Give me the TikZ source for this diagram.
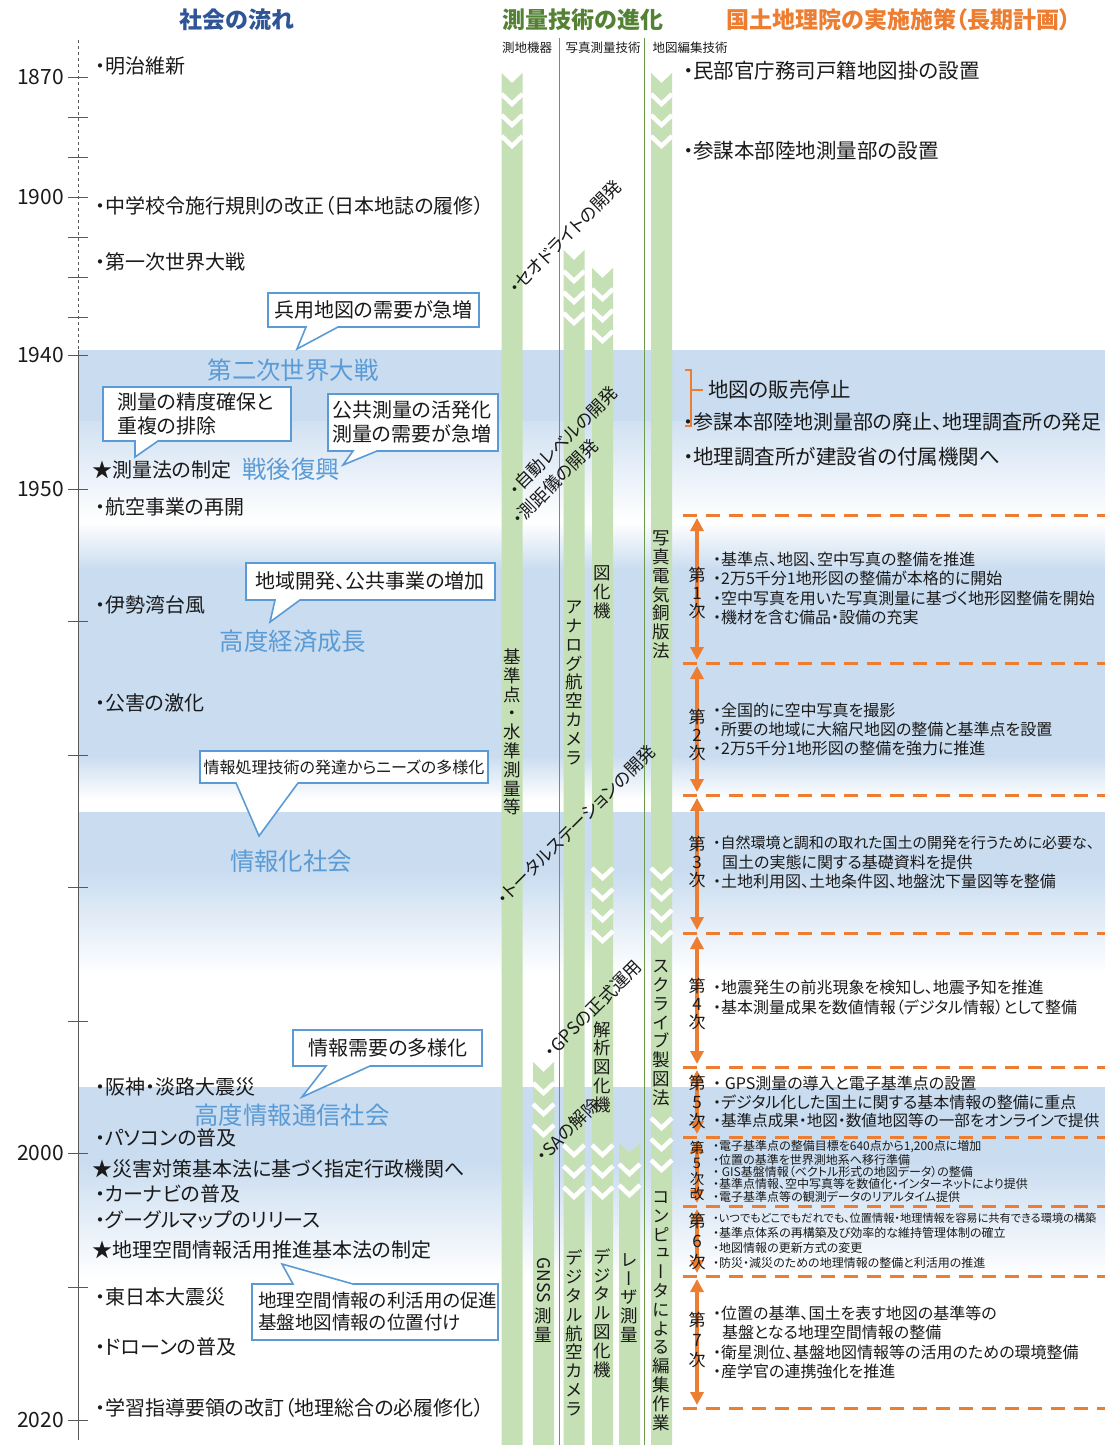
\documentclass[tikz,border=0pt]{standalone}
\usepackage{fontspec}
\setmainfont{Noto Sans CJK JP}[RawFeature=+palt]
\newfontfamily\vfont{Noto Sans CJK JP}[RawFeature=+vert]
\usetikzlibrary{arrows.meta}
\definecolor{txtc}{HTML}{1A1A1A}
\definecolor{headb}{HTML}{2F5597}
\definecolor{headg}{HTML}{548235}
\definecolor{orc}{HTML}{ED7D31}
\definecolor{erac}{HTML}{5B9BD5}
\definecolor{callc}{HTML}{5B9BD5}
\definecolor{bandc}{HTML}{C9DCF0}
\definecolor{barg}{HTML}{C5E0B4}
\definecolor{sepg}{HTML}{6A9A4A}
\newcommand{\gbar}[3]{\fill[barg] (#1-10.5,#2) -- (#1,#2+10) -- (#1+10.5,#2) -- (#1+10.5,#3) -- (#1-10.5,#3) -- cycle;}
\newcommand{\chevs}[2]{\foreach \yy in {#2}{\draw[white, line width=4.5pt] (#1-10.5,\yy) -- (#1,\yy+10) -- (#1+10.5,\yy);}}
\tikzset{
  lefttxt/.style={anchor=west, inner sep=0pt, text=txtc, font=\fontsize{20}{24}\selectfont},
  righttxt/.style={anchor=west, inner sep=0pt, text=txtc, font=\fontsize{20.5}{24}\selectfont},
  eratxt/.style={text=erac, inner sep=0pt, font=\fontsize{24.4}{28}\selectfont},
  yeartxt/.style={anchor=east, inner sep=0pt, font=\fontsize{21}{24}\selectfont, text=txtc},
  calltxt/.style={align=center, inner sep=0pt, text=txtc, font=\fontsize{20}{24.5}\selectfont},
  cbox/.style={draw=callc, line width=1.6pt, fill=white, line join=miter},
  plantxt/.style={anchor=west, inner sep=0pt, text=txtc, font=\fontsize{16}{19}\selectfont},
  plansm/.style={plantxt, font=\fontsize{12}{14}\selectfont},
  planlab/.style={align=center, inner sep=0pt, text=txtc, font=\fontsize{17}{17.8}\selectfont},
  pline/.style={draw=orc, line width=3pt, dash pattern=on 14pt off 9pt},
  parrow/.style={draw=orc, line width=3.5pt, {Triangle[width=13pt,length=13pt]}-{Triangle[width=13pt,length=13pt]}},
  diagtxt/.style={rotate=45, inner sep=0pt, text=txtc, font=\fontsize{17.5}{20}\selectfont},
  vtxt/.style={align=center, inner sep=0pt, text=txtc, font=\vfont\fontsize{17.5}{18.8}\selectfont},
  headtxt/.style={inner sep=0pt, font=\bfseries\fontsize{23}{26}\selectfont},
  subhead/.style={inner sep=0pt, text=txtc, font=\fontsize{12.5}{14}\selectfont},
}
\begin{document}
\begin{tikzpicture}[x=1pt,y=-1pt]
\useasboundingbox (0,0) rectangle (1115,1445);
\fill[white] (0,0) rectangle (1115,1445);

% ---- era bands
\fill[bandc] (78,350) rectangle (1105,421);
\shade[top color=bandc!85, bottom color=white] (78,421) rectangle (1105,522);
\shade[top color=white, bottom color=bandc] (78,522) rectangle (1105,570);
\fill[bandc] (78,570) rectangle (1105,755);
\shade[top color=bandc, bottom color=white] (78,755) rectangle (1105,800);
\fill[bandc] (78,812) rectangle (1105,870);
\shade[top color=bandc, bottom color=white] (78,870) rectangle (1105,975);
\fill[bandc] (78,1087) rectangle (1105,1160);
\shade[top color=bandc, bottom color=white] (78,1160) rectangle (1105,1278);

% ---- headers
\node[headtxt, text=headb] (h1) at (237,20) {社会の流れ};
\node[headtxt, text=headg] (h2) at (583,20) {測量技術の進化};
\node[headtxt, text=orc] (h3) at (899,20) {国土地理院の実施施策（長期計画）};
\node[subhead] (s1) at (527,48) {測地機器};
\node[subhead] (s2) at (603,48) {写真測量技術};
\node[subhead] (s3) at (690,48) {地図編集技術};

% ---- time axis
\draw[gray!70!black, line width=1pt, dash pattern=on 3pt off 3pt] (78,40) -- (78,350);
\draw[gray!70!black, line width=1pt] (78,350) -- (78,1440);
\foreach \yy in {77,117,157,197,237,277,317,355,489,621,755,887,1021,1153,1287,1420}
  {\draw[gray!70!black, line width=1pt] (68,\yy) -- (88,\yy);}
\node[yeartxt] (y1870) at (64,77) {1870};
\node[yeartxt] (y1900) at (64,197) {1900};
\node[yeartxt] (y1940) at (64,355) {1940};
\node[yeartxt] (y1950) at (64,489) {1950};
\node[yeartxt] (y2000) at (64,1153) {2000};
\node[yeartxt] (y2020) at (64,1420) {2020};

% ---- green bars
\gbar{512}{73}{1445}
\chevs{512}{94,115,136}
\gbar{543.5}{1062}{1445}
\chevs{543.5}{1083,1104,1125}
\gbar{574}{250}{1445}
\chevs{574}{271,292,313,1145,1166,1187}
\gbar{602.5}{268}{1445}
\chevs{602.5}{289,310,331,868,889,910,931,1145,1166,1187}
\gbar{629.5}{1143}{1445}
\chevs{629.5}{1164,1185}
\gbar{661.5}{73}{1445}
\chevs{661.5}{94,115,136,868,889,910,931,1118,1139,1160}

% ---- separators
\draw[sepg, line width=0.9pt] (559,38) -- (559,1445);
\draw[sepg, line width=0.9pt] (644,38) -- (644,1445);

% ---- vertical texts in bars
\node[vtxt] (vA) at (512,732) {基\\準\\点\\・\\水\\準\\測\\量\\等};
\node[vtxt] (vC1) at (574,683) {ア\\ナ\\ロ\\グ\\航\\空\\カ\\メ\\ラ};
\node[vtxt] (vD1) at (602.5,592) {図\\化\\機};
\node[vtxt] (vF1) at (661.5,595) {写\\真\\電\\気\\銅\\版\\法};
\node[vtxt] (vD2) at (602.5,1067) {解\\析\\図\\化\\機};
\node[vtxt] (vF2) at (661.5,1033) {ス\\ク\\ラ\\イ\\ブ\\製\\図\\法};
\node[vtxt] (vF3) at (661.5,1311) {コ\\ン\\ピ\\ュ\\ー\\タ\\に\\よ\\る\\編\\集\\作\\業};
\node[vtxt] (vC2) at (574,1333) {デ\\ジ\\タ\\ル\\航\\空\\カ\\メ\\ラ};
\node[vtxt] (vD3) at (602.5,1313) {デ\\ジ\\タ\\ル\\図\\化\\機};
\node[vtxt] (vE) at (629.5,1298) {レ\\ー\\ザ\\測\\量};
\node[inner sep=0pt, text=txtc, rotate=-90, font=\fontsize{17.5}{20}\selectfont] (vB1) at (543.5,1280) {GNSS};
\node[vtxt] (vB2) at (543.5,1325) {測\\量};

% ---- diagonal texts
\node[diagtxt] (d1) at (565,237) {・セオドライトの開発};
\node[diagtxt] (d2) at (563,441) {・自動レベルの開発};
\node[diagtxt] (d3) at (555,482) {・測距儀の開発};
\node[diagtxt] (d4) at (576,825) {・トータルステーションの開発};
\node[diagtxt] (d5) at (593,1009) {・GPSの正式運用};
\node[diagtxt] (d6) at (568,1130) {・SAの解除};

% ---- left column events
\node[lefttxt] (e1) at (95,66) {・明治維新};
\node[lefttxt] (e2) at (95,206) {・中学校令施行規則の改正（日本地誌の履修）};
\node[lefttxt] (e3) at (95,262) {・第一次世界大戦};
\node[lefttxt] (e4) at (92,470) {★測量法の制定};
\node[lefttxt] (e5) at (95,507) {・航空事業の再開};
\node[lefttxt] (e6) at (95,605) {・伊勢湾台風};
\node[lefttxt] (e7) at (95,703) {・公害の激化};
\node[lefttxt] (e8) at (95,1087) {・阪神・淡路大震災};
\node[lefttxt] (e9) at (95,1138) {・パソコンの普及};
\node[lefttxt] (e10) at (92,1169) {★災害対策基本法に基づく指定行政機関へ};
\node[lefttxt] (e11) at (95,1194) {・カーナビの普及};
\node[lefttxt] (e12) at (95,1220) {・グーグルマップのリリース};
\node[lefttxt] (e13) at (92,1250) {★地理空間情報活用推進基本法の制定};
\node[lefttxt] (e14) at (95,1297) {・東日本大震災};
\node[lefttxt] (e15) at (95,1347) {・ドローンの普及};
\node[lefttxt] (e16) at (95,1408) {・学習指導要領の改訂（地理総合の必履修化）};

% ---- era labels
\node[eratxt] (r1) at (293,370) {第二次世界大戦};
\node[eratxt] (r2) at (291,469) {戦後復興};
\node[eratxt] (r3) at (293,641) {高度経済成長};
\node[eratxt] (r4) at (291,861) {情報化社会};
\node[eratxt] (r5) at (292,1115) {高度情報通信社会};

% ---- callouts
\draw[cbox] (268,293) -- (479,293) -- (479,327) -- (338,327) -- (297,349) -- (306,327) -- (268,327) -- cycle;
\node[calltxt] (c1) at (373.5,310) {兵用地図の需要が急増};
\draw[cbox] (103,387) -- (291,387) -- (291,441) -- (158,441) -- (135,457) -- (135,441) -- (103,441) -- cycle;
\node[calltxt, align=left, anchor=west] (c2) at (117,414) {測量の精度確保と\\重複の排除};
\draw[cbox] (328,394) -- (498,394) -- (498,451) -- (377,451) -- (343,465) -- (353,451) -- (328,451) -- cycle;
\node[calltxt, align=left, anchor=west] (c3) at (332,422) {公共測量の活発化\\測量の需要が急増};
\draw[cbox] (246,563) -- (495,563) -- (495,600) -- (300,600) -- (270,622) -- (275,600) -- (246,600) -- cycle;
\node[calltxt] (c4) at (370,581) {地域開発、公共事業の増加};
\draw[cbox] (200,751) -- (488,751) -- (488,783) -- (298,783) -- (259,836) -- (236,783) -- (200,783) -- cycle;
\node[calltxt, font=\fontsize{16}{19}\selectfont] (c5) at (344,767) {情報処理技術の発達からニーズの多様化};
\draw[cbox] (293,1030) -- (482,1030) -- (482,1066) -- (370,1066) -- (302,1097) -- (326,1066) -- (293,1066) -- cycle;
\node[calltxt] (c6) at (388,1048) {情報需要の多様化};
\draw[cbox] (252,1284) -- (293,1284) -- (282,1264) -- (353,1284) -- (498,1284) -- (498,1340) -- (252,1340) -- cycle;
\node[calltxt, align=left, anchor=west, font=\fontsize{18.5}{22}\selectfont] (c7) at (258,1311) {地理空間情報の利活用の促進\\基盤地図情報の位置付け};

% ---- right column (early)
\node[righttxt] (g1) at (683,71) {・民部官庁務司戸籍地図掛の設置};
\node[righttxt] (g2) at (683,151) {・参謀本部陸地測量部の設置};
\node[righttxt] (g3) at (708,390) {地図の販売停止};
\node[righttxt, font=\fontsize{20}{24}\selectfont] (g4) at (683,422) {・参謀本部陸地測量部の廃止、地理調査所の発足};
\node[righttxt] (g5) at (683,457) {・地理調査所が建設省の付属機関へ};
\draw[orc, line width=1.5pt] (685,370) -- (691,370) -- (691,426) -- (685,426);
\draw[orc, line width=1.5pt] (691,390) -- (703,390);

% ---- long-term plans: dashed separators
\foreach \yy in {515,663,795,933,1067,1137,1206,1276,1408}
  {\draw[pline] (683,\yy) -- (1105,\yy);}
\coordinate (a1t) at (697,518); \coordinate (a1b) at (697,660);
\coordinate (a2t) at (697,666); \coordinate (a2b) at (697,792);
\coordinate (a3t) at (697,798); \coordinate (a3b) at (697,930);
\coordinate (a4t) at (697,936); \coordinate (a4b) at (697,1064);
\coordinate (a5t) at (697,1070); \coordinate (a5b) at (697,1134);
\coordinate (a6t) at (697,1140); \coordinate (a6b) at (697,1203);
\coordinate (a7t) at (697,1209); \coordinate (a7b) at (697,1273);
\coordinate (a8t) at (697,1279); \coordinate (a8b) at (697,1405);
\foreach \i in {1,...,8} {\draw[parrow] (a\i t) -- (a\i b);}

\node[planlab] (l1) at (697,593) {第\\1\\次};
\node[planlab] (l2) at (697,735) {第\\2\\次};
\node[planlab] (l3) at (697,862) {第\\3\\次};
\node[planlab] (l4) at (697,1004) {第\\4\\次};
\node[planlab, font=\fontsize{17}{19}\selectfont] (l5) at (697,1102) {第\\5\\次};
\node[planlab, font=\fontsize{14.5}{15.5}\selectfont] (l6) at (697,1171) {第\\5\\次\\改};
\node[planlab, font=\fontsize{17}{20.5}\selectfont] (l7) at (697,1241) {第\\6\\次};
\node[planlab, font=\fontsize{17}{20}\selectfont] (l8) at (697,1340) {第\\7\\次};

\node[plantxt] (p1a) at (713,559) {・基準点、地図、空中写真の整備を推進};
\node[plantxt] (p1b) at (713,578) {・2万5千分1地形図の整備が本格的に開始};
\node[plantxt] (p1c) at (713,598) {・空中写真を用いた写真測量に基づく地形図整備を開始};
\node[plantxt] (p1d) at (713,617) {・機材を含む備品・設備の充実};
\node[plantxt] (p2a) at (713,710) {・全国的に空中写真を撮影};
\node[plantxt] (p2b) at (713,729) {・所要の地域に大縮尺地図の整備と基準点を設置};
\node[plantxt] (p2c) at (713,748) {・2万5千分1地形図の整備を強力に推進};
\node[plantxt, font=\fontsize{15}{18}\selectfont] (p3a) at (713,843) {・自然環境と調和の取れた国土の開発を行うために必要な、};
\node[plantxt] (p3b) at (722,862) {国土の実態に関する基礎資料を提供};
\node[plantxt] (p3c) at (713,881) {・土地利用図、土地条件図、地盤沈下量図等を整備};
\node[plantxt] (p4a) at (713,987) {・地震発生の前兆現象を検知し、地震予知を推進};
\node[plantxt] (p4b) at (713,1007) {・基本測量成果を数値情報（デジタル情報）として整備};
\node[plantxt] (p5a) at (713,1083) {・ GPS測量の導入と電子基準点の設置};
\node[plantxt] (p5b) at (713,1102) {・デジタル化した国土に関する基本情報の整備に重点};
\node[plantxt, font=\fontsize{15.6}{18}\selectfont] (p5c) at (713,1121) {・基準点成果・地図・数値地図等の一部をオンラインで提供};
\node[plansm] (p6a) at (713,1147) {・電子基準点の整備目標を640点から1,200点に増加};
\node[plansm] (p6b) at (713,1160) {・位置の基準を世界測地系へ移行準備};
\node[plansm] (p6c) at (713,1172) {・ GIS基盤情報（ベクトル形式の地図データ）の整備};
\node[plansm] (p6d) at (713,1184) {・基準点情報、空中写真等を数値化・インターネットにより提供};
\node[plansm] (p6e) at (713,1197) {・電子基準点等の観測データのリアルタイム提供};
\node[plansm, font=\fontsize{11.2}{13}\selectfont] (p7a) at (713,1218) {・いつでもどこでもだれでも、位置情報・地理情報を容易に共有できる環境の構築};
\node[plansm] (p7b) at (713,1233) {・基準点体系の再構築及び効率的な維持管理体制の確立};
\node[plansm] (p7c) at (713,1248) {・地図情報の更新方式の変更};
\node[plansm] (p7d) at (713,1263) {・防災・減災のための地理情報の整備と利活用の推進};
\node[plantxt] (p8a) at (713,1313) {・位置の基準、国土を表す地図の基準等の};
\node[plantxt] (p8b) at (722,1332) {基盤となる地理空間情報の整備};
\node[plantxt] (p8c) at (713,1352) {・衛星測位、基盤地図情報等の活用のための環境整備};
\node[plantxt] (p8d) at (713,1371) {・産学官の連携強化を推進};
\end{tikzpicture}
\end{document}
